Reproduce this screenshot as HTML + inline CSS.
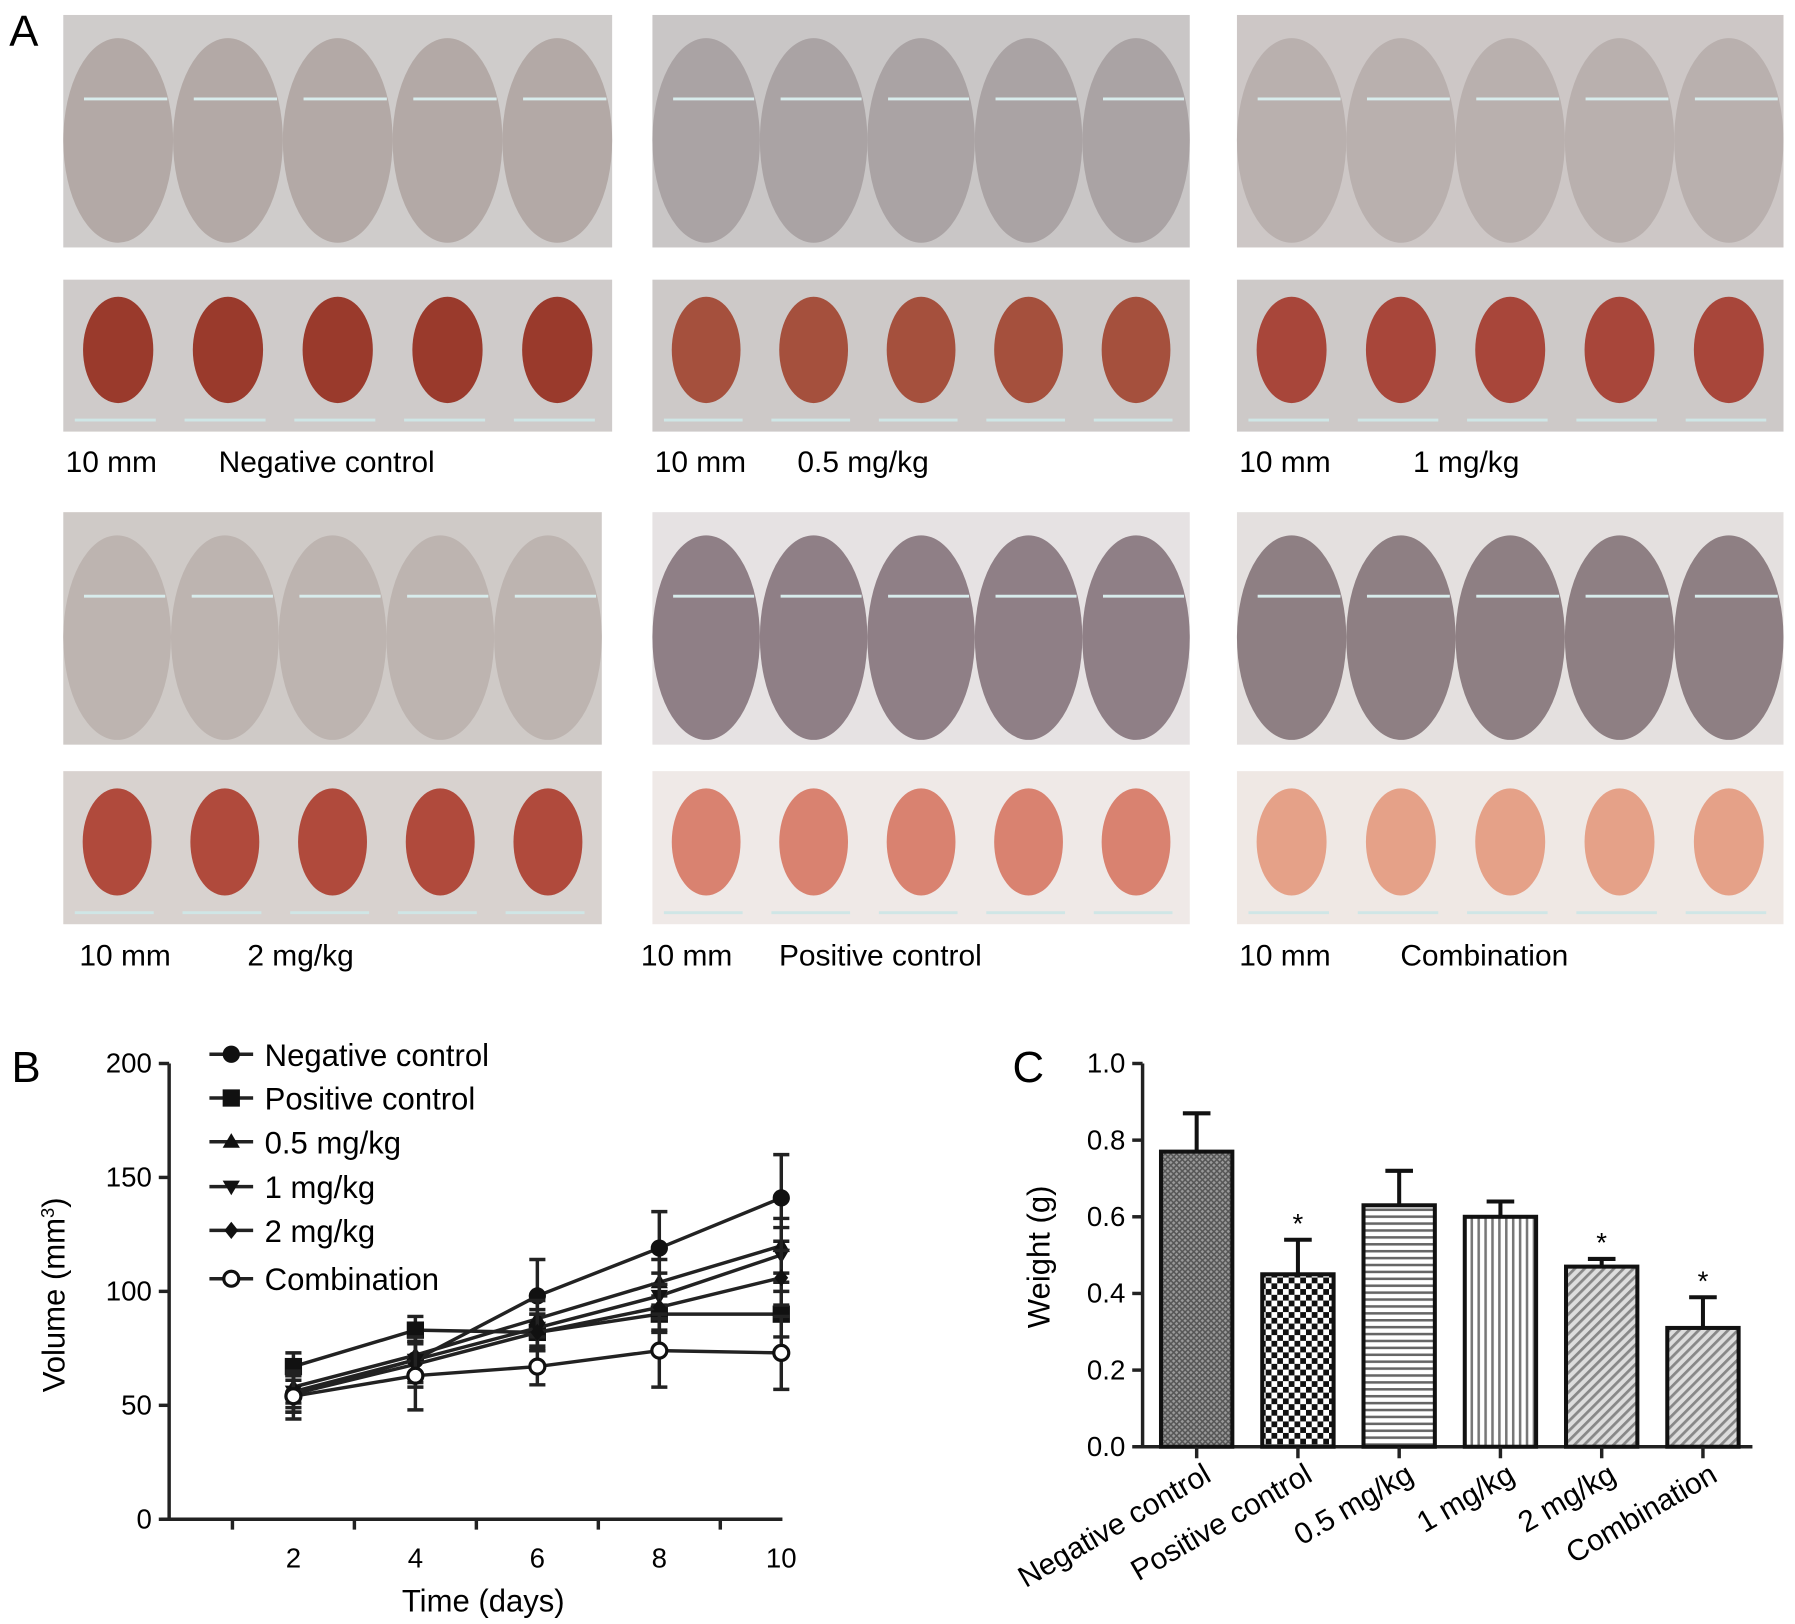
<!DOCTYPE html>
<html><head><meta charset="utf-8"><style>
html,body{margin:0;padding:0;background:#fff;}
svg{display:block;font-family:"Liberation Sans",Arial,sans-serif;}
</style></head><body>
<svg id="fig" width="1795" height="1624" viewBox="0 0 1560 1411" preserveAspectRatio="none" xmlns="http://www.w3.org/2000/svg">
<defs>
<pattern id="pNeg" width="5" height="5" patternUnits="userSpaceOnUse"><rect width="5" height="5" fill="#9a9a9a"/><path d="M0 0L5 5M5 0L0 5" stroke="#555" stroke-width="1.3"/></pattern>
<pattern id="pPos" width="10" height="10" patternUnits="userSpaceOnUse"><rect width="10" height="10" fill="#fff"/><rect width="5" height="5" fill="#111"/><rect x="5" y="5" width="5" height="5" fill="#111"/></pattern>
<pattern id="pH" width="6" height="6" patternUnits="userSpaceOnUse"><rect width="6" height="6" fill="#fff"/><rect width="6" height="2.2" fill="#666"/></pattern>
<pattern id="pV" width="6" height="6" patternUnits="userSpaceOnUse"><rect width="6" height="6" fill="#fff"/><rect width="2.2" height="6" fill="#777"/></pattern>
<pattern id="pD" width="6" height="6" patternUnits="userSpaceOnUse" patternTransform="rotate(45)"><rect width="6" height="6" fill="#ddd"/><rect width="2.4" height="6" fill="#888"/></pattern>
</defs>
<text x="8" y="40" font-size="38">A</text>
<g id="photos"></g>
<text x="10" y="940" font-size="38">B</text>
<text x="880" y="940" font-size="38">C</text>
<g id="chartB"></g>
<g id="chartC"></g>
</svg>
<script>
// ---------- Panel B data ----------
const days = [2, 4, 6, 8, 10];
const seriesNames = ["Negative control", "Positive control", "0.5 mg/kg", "1 mg/kg", "2 mg/kg", "Combination"];
const negVals = [55, 70, 98, 119, 141];
const posVals = [67, 83, 82, 90, 90];
const v05Vals = [58, 72, 88, 104, 120];
const v1Vals = [56, 70, 84, 98, 116];
const v2Vals = [55, 68, 82, 93, 106];
const comboVals = [54, 63, 67, 74, 73];
const negErr = [8, 10, 16, 16, 19];
const posErr = [6, 6, 8, 8, 10];
const v05Err = [7, 8, 8, 10, 12];
const v1Err = [7, 8, 8, 10, 12];
const v2Err = [8, 10, 8, 10, 12];
const comboErr = [10, 15, 8, 16, 16];
const yTicksB = [0, 50, 100, 150, 200];
// ---------- Panel C data ----------
const groups = ["Negative control", "Positive control", "0.5 mg/kg", "1 mg/kg", "2 mg/kg", "Combination"];
const weights = [0.77, 0.45, 0.63, 0.60, 0.47, 0.31];
const weightErr = [0.10, 0.09, 0.09, 0.04, 0.02, 0.08];
const significant = [false, true, false, false, true, true];
const yTicksC = ["0.0", "0.2", "0.4", "0.6", "0.8", "1.0"];

const NS = "http://www.w3.org/2000/svg";
function mk(tag, attrs, parent, txt) {
  const e = document.createElementNS(NS, tag);
  for (const k in attrs) e.setAttribute(k, attrs[k]);
  if (txt !== undefined) e.textContent = txt;
  parent.appendChild(e);
  return e;
}

// ---------- Photos (approximation) ----------
const photos = document.getElementById('photos');
const cols = [[55, 532], [567, 1034], [1075, 1550]];
const rowsY = [[13, 215, 243, 375, 401], [445, 647, 670, 803, 830]];
const mouseColors = [["#b3a9a6", "#aaa3a4", "#b9b0ae"], ["#bdb4b0", "#8f7f86", "#8e7f83"]];
const bgColors = [["#cfcccb", "#c9c6c6", "#cdc7c6"], ["#cfcac7", "#e6e2e3", "#e4e0df"]];
const tumorBg = [["#cfcbca", "#cdc9c8", "#cdc9c8"], ["#d8d2cf", "#efe9e7", "#efe8e4"]];
const tumorCol = [["#9a3a2c", "#a5503d", "#a8463a"], ["#b04a3c", "#d98270", "#e5a188"]];
const labels = [["Negative control", "0.5 mg/kg", "1 mg/kg"], ["2 mg/kg", "Positive control", "Combination"]];
for (let r = 0; r < 2; r++) for (let c = 0; c < 3; c++) {
  const [x0, x1] = cols[c];
  const xe = (r === 1 && c === 0) ? 523 : x1;
  const [my0, my1, ty0, ty1, ly] = rowsY[r];
  const g = mk('g', {}, photos);
  
  
  mk('rect', {x: x0, y: my0, width: xe - x0, height: my1 - my0, fill: bgColors[r][c]}, g);
  const w = (xe - x0) / 5;
  for (let i = 0; i < 5; i++) {
    mk('ellipse', {cx: x0 + w * (i + 0.5), cy: (my0 + my1) / 2 + 8, rx: w * 0.5, ry: (my1 - my0) * 0.44, fill: mouseColors[r][c]}, g);
    mk('line', {x1: x0 + w * i + 18, x2: x0 + w * (i + 1) - 5, y1: my0 + 73, y2: my0 + 73, stroke: "#d8ecec", 'stroke-width': 2.5}, g);
  }
  const tg = mk('g', {}, photos);
  
  
  mk('rect', {x: x0, y: ty0, width: xe - x0, height: ty1 - ty0, fill: tumorBg[r][c]}, tg);
  for (let i = 0; i < 5; i++) {
    mk('ellipse', {cx: x0 + w * (i + 0.5), cy: (ty0 + ty1) / 2 - 5, rx: w * 0.32, ry: (ty1 - ty0) * 0.35, fill: tumorCol[r][c]}, tg);
    mk('line', {x1: x0 + w * i + 10, x2: x0 + w * (i + 1) - 15, y1: ty1 - 10, y2: ty1 - 10, stroke: "#cfe6e6", 'stroke-width': 2.5}, tg);
  }
  const off = (r === 1 && c === 0) ? 12 : (r === 1 && c === 1 ? -12 : 0);
  const t1 = mk('text', {x: x0 + 2 + off, y: ly + 9, 'font-size': 26}, photos, "10 mm");
  
  
  const lx = [[190, 693, 1228], [215, 677, 1217]][r][c];
  const t2 = mk('text', {x: lx, y: ly + 9, 'font-size': 26}, photos, labels[r][c]);
  
  
}

// ---------- Panel B ----------
const B = document.getElementById('chartB');
const xB = d => 255 + (d - 2) * 53;
const yB = v => 1320 - v * 1.98;
mk('line', {x1: 147, x2: 147, y1: yB(200), y2: yB(0), stroke: "#222", 'stroke-width': 3}, B);
mk('line', {x1: 140, x2: 680, y1: yB(0), y2: yB(0), stroke: "#222", 'stroke-width': 3}, B);
yTicksB.forEach(t => {
  mk('line', {x1: 138, x2: 147, y1: yB(t), y2: yB(t), stroke: "#222", 'stroke-width': 3}, B);
  const e = mk('text', {x: 132, y: yB(t) + 8, 'font-size': 24, 'text-anchor': 'end'}, B, t);
  
  
});
for (let d = 1; d <= 9; d += 2) mk('line', {x1: xB(d), x2: xB(d), y1: yB(0), y2: yB(0) + 9, stroke: "#222", 'stroke-width': 3}, B);
days.forEach(d => {
  const e = mk('text', {x: xB(d), y: 1362, 'font-size': 24, 'text-anchor': 'middle'}, B, d);
  
  
});
let e = mk('text', {x: 420, y: 1400, 'font-size': 27, 'text-anchor': 'middle'}, B, "Time (days)");


e = mk('text', {x: 0, y: 0, 'font-size': 27, 'text-anchor': 'middle', transform: 'translate(56,1125) rotate(-90)'}, B);


e.innerHTML = 'Volume (mm<tspan dy="-9" font-size="16">3</tspan><tspan dy="9">)</tspan>';

const allVals = [negVals, posVals, v05Vals, v1Vals, v2Vals, comboVals];
const allErr = [negErr, posErr, v05Err, v1Err, v2Err, comboErr];
const markers = ['circle', 'square', 'tri', 'itri', 'diamond', 'open'];
function marker(g, type, x, y, s) {
  if (type === 'circle') mk('circle', {cx: x, cy: y, r: s, fill: '#111'}, g);
  else if (type === 'square') mk('rect', {x: x - s, y: y - s, width: 2 * s, height: 2 * s, fill: '#111'}, g);
  else if (type === 'tri') mk('polygon', {points: `${x},${y - s} ${x - s},${y + s * 0.7} ${x + s},${y + s * 0.7}`, fill: '#111'}, g);
  else if (type === 'itri') mk('polygon', {points: `${x},${y + s} ${x - s},${y - s * 0.7} ${x + s},${y - s * 0.7}`, fill: '#111'}, g);
  else if (type === 'diamond') mk('polygon', {points: `${x},${y - s} ${x + s * 0.8},${y} ${x},${y + s} ${x - s * 0.8},${y}`, fill: '#111'}, g);
  else mk('circle', {cx: x, cy: y, r: s - 1, fill: '#fff', stroke: '#111', 'stroke-width': 2.8}, g);
}
allVals.forEach((vals, si) => {
  const g = mk('g', {}, B);
  
  
  mk('polyline', {points: vals.map((v, i) => xB(days[i]) + ',' + yB(v)).join(' '), fill: 'none', stroke: '#222', 'stroke-width': 3}, g);
  vals.forEach((v, i) => {
    const x = xB(days[i]), er = allErr[si][i];
    mk('line', {x1: x, x2: x, y1: yB(v - er), y2: yB(v + er), stroke: '#222', 'stroke-width': 3}, g);
    mk('line', {x1: x - 7, x2: x + 7, y1: yB(v + er), y2: yB(v + er), stroke: '#222', 'stroke-width': 3}, g);
    mk('line', {x1: x - 7, x2: x + 7, y1: yB(v - er), y2: yB(v - er), stroke: '#222', 'stroke-width': 3}, g);
    marker(g, markers[si], x, yB(v), 7.5);
  });
});
const legY = [916, 954, 992, 1031, 1069, 1111];
seriesNames.forEach((n, i) => {
  const g = mk('g', {}, B);
  
  
  mk('line', {x1: 182, x2: 220, y1: legY[i], y2: legY[i], stroke: '#222', 'stroke-width': 3}, g);
  marker(g, markers[i], 201, legY[i], 7.5);
  mk('text', {x: 230, y: legY[i] + 10, 'font-size': 27}, g, n);
});

// ---------- Panel C ----------
const C = document.getElementById('chartC');
const yC = v => 1257 - v * 333;
const xC = i => 1040 + i * 88;
const bw = 62;
mk('line', {x1: 993, x2: 993, y1: yC(1), y2: yC(0), stroke: '#222', 'stroke-width': 3}, C);
mk('line', {x1: 986, x2: 1523, y1: yC(0), y2: yC(0), stroke: '#222', 'stroke-width': 3}, C);
yTicksC.forEach(t => {
  const v = parseFloat(t);
  mk('line', {x1: 984, x2: 993, y1: yC(v), y2: yC(v), stroke: '#222', 'stroke-width': 3}, C);
  const el = mk('text', {x: 978, y: yC(v) + 8, 'font-size': 24, 'text-anchor': 'end'}, C, t);
  
  
});
e = mk('text', {x: 0, y: 0, 'font-size': 27, 'text-anchor': 'middle', transform: 'translate(912,1092) rotate(-90)'}, C, "Weight (g)");


const fills = ['url(#pNeg)', 'url(#pPos)', 'url(#pH)', 'url(#pV)', 'url(#pD)', 'url(#pD)'];
weights.forEach((w, i) => {
  const g = mk('g', {}, C);
  
  
  const x = xC(i);
  const top = yC(w + weightErr[i]);
  mk('line', {x1: x, x2: x, y1: yC(w), y2: top, stroke: '#111', 'stroke-width': 3.5}, g);
  mk('line', {x1: x - 12, x2: x + 12, y1: top, y2: top, stroke: '#111', 'stroke-width': 3.5}, g);
  mk('rect', {x: x - bw / 2, y: yC(w), width: bw, height: yC(0) - yC(w), fill: fills[i], stroke: '#111', 'stroke-width': 3.5}, g);
  mk('line', {x1: x, x2: x, y1: yC(0), y2: yC(0) + 10, stroke: '#222', 'stroke-width': 3}, g);
  if (significant[i]) mk('text', {x: x, y: top - 6, 'font-size': 24, 'text-anchor': 'middle'}, g, '*');
  const lbl = mk('text', {x: 0, y: 0, 'font-size': 26, 'text-anchor': 'end', transform: `translate(${x + 14},${1286}) rotate(-30)`}, C, groups[i]);
  
  
});
</script>
</body></html>
